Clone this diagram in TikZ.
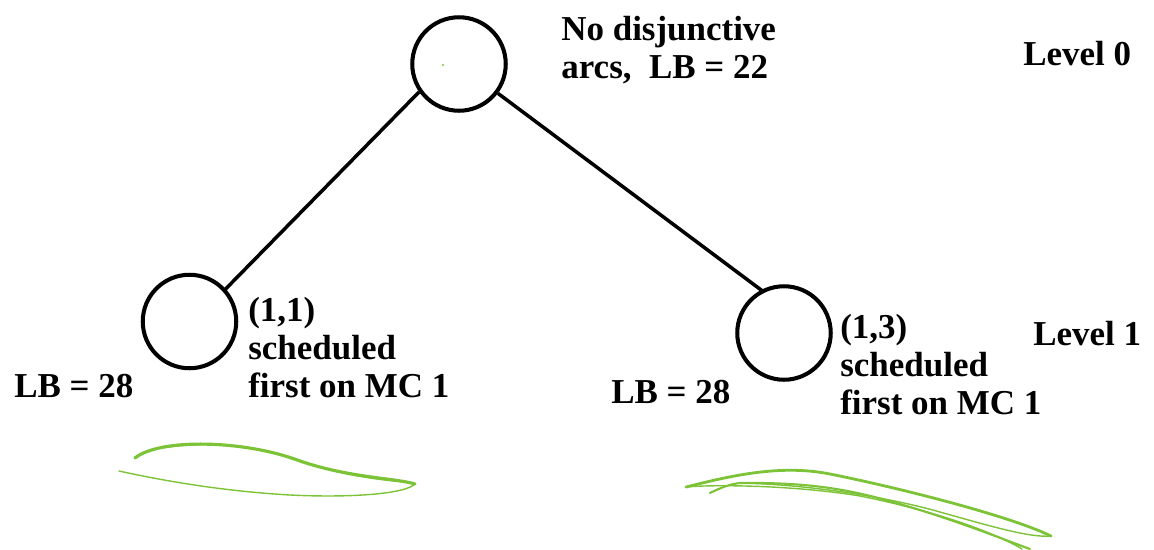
\documentclass[tikz,border=0pt]{standalone}
\usepackage{fontspec}
\setmainfont{Liberation Serif}
\definecolor{pen}{RGB}{125,195,55}

\begin{document}
\begin{tikzpicture}[x=0.02cm, y=-0.02cm, main/.style = {draw, circle, line width=2.3pt, inner sep=0pt, minimum size=1.87cm},
		txt/.style={anchor=base west, align=left, inner sep=0pt, font=\fontsize{19.9}{21.6}\selectfont\bfseries},
		edge/.style={line width=2pt, shorten >=-2pt},
		scribble/.style={draw=pen, line cap=round, line join=round}]
	\useasboundingbox (0,0) rectangle (1154,549);
	
	\node[main] (root) at (459,64) {};
	\node[main] (left) at (189.5,321.5) {};
	\node[main] (right) at (784,333) {};
	\fill[pen] (443,65) circle (0.7pt);
	
	\draw[edge] (root.215) -- (left.42);
	\draw[edge] (root.-37) -- (right.118);
	
	% multi-line texts sit on the baseline of their last line
	\node[txt] (root label) at (561,78) {No disjunctive\\arcs,\ \ LB = 22};
	\node[txt] (left label) at (248,397) {(1,1)\\scheduled\\first on MC 1};
	\node[txt] (right label) at (840,414) {(1,3)\\scheduled\\first on MC 1};
	\node[txt] (left lb) at (14,397) {LB = 28};
	\node[txt] (right lb) at (611,403) {LB = 28};
	\node[txt] (level 0) at (1023,65) {Level 0};
	\node[txt] (level 1) at (1033,345) {Level 1};
	
	% pen strokes under the two children
	\draw[scribble, line width=1.8pt] (135,458) .. controls (160,438) and (245,440) .. (300,461) .. controls (350,478) and (395,478) .. (415,484);
	\draw[scribble, line width=0.8pt] (150,450) .. controls (200,440) and (260,444) .. (310,464) .. controls (360,480) and (400,481) .. (414,483);
	\draw[scribble, line width=0.8pt] (415,484) .. controls (405,494) and (350,498) .. (290,495) .. controls (220,491) and (160,480) .. (119,471);
	
	\draw[scribble, line width=1.6pt] (686,487) .. controls (730,476) and (780,464) .. (830,474) .. controls (900,488) and (1010,516) .. (1051,536);
	\draw[scribble, line width=0.8pt] (1051,536) .. controls (1030,538) and (990,526) .. (940,512) .. controls (880,495) and (800,484) .. (738,483);
	\draw[scribble, line width=1.2pt] (710,493) .. controls (720,488) and (730,484) .. (740,483) .. controls (820,482) and (860,492) .. (910,507) .. controls (960,522) and (1000,538) .. (1030,549);
	\draw[scribble, line width=0.8pt] (686,487) .. controls (720,484) and (800,486) .. (860,496) .. controls (930,510) and (990,530) .. (1022,549);
	
\end{tikzpicture}
\end{document}
